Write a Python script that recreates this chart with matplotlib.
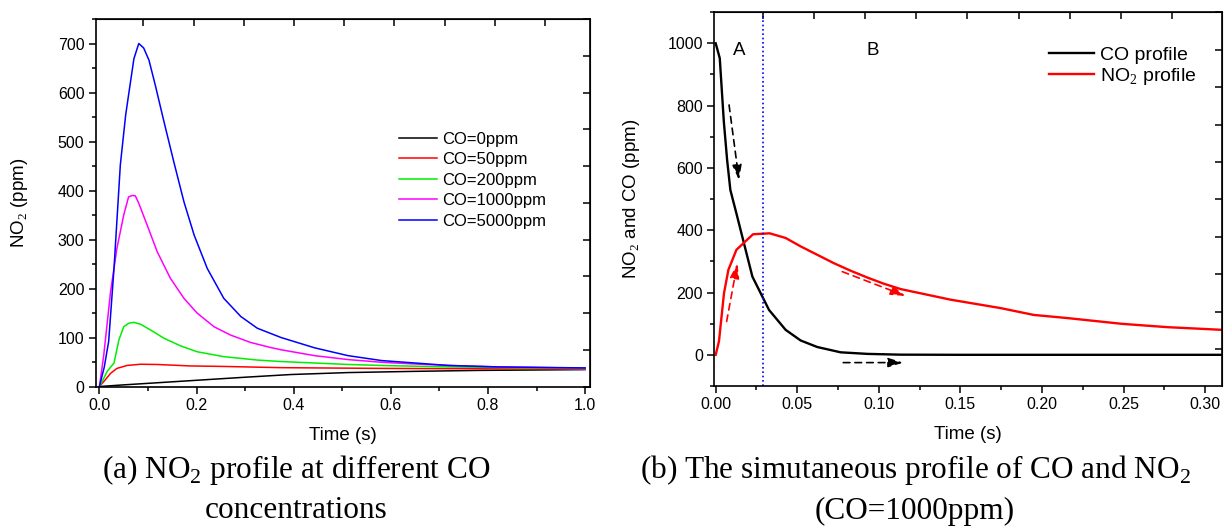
import matplotlib
matplotlib.use("Agg")
import matplotlib.pyplot as plt
from matplotlib.ticker import MultipleLocator, FormatStrFormatter, NullLocator
import numpy as np

plt.rcParams['font.family'] = ['Liberation Sans', 'DejaVu Sans']
plt.rcParams['mathtext.fontset'] = 'custom'
plt.rcParams['mathtext.rm'] = 'Liberation Sans'

# (a) NO2 at different inlet CO levels
t_co0 = [0, 0.05, 0.1, 0.188, 0.3, 0.394, 0.512, 0.65, 0.788, 1.0]
no2_co0 = [0, 3.4, 6.5, 12, 19, 24.5, 28.5, 31, 33, 34.5]

t_co50 = [0, 0.012, 0.023, 0.036, 0.057, 0.085, 0.119, 0.188, 0.256, 0.374, 0.581, 1.0]
no2_co50 = [0, 13.6, 27, 37, 43, 45.5, 45, 42, 41, 38.5, 37, 35.5]

t_co200 = [0, 0.008, 0.016, 0.030, 0.040, 0.050, 0.060, 0.071, 0.085, 0.105, 0.133,
           0.167, 0.201, 0.256, 0.325, 0.374, 0.443, 0.512, 0.581, 0.719, 1.0]
no2_co200 = [0, 15, 31, 48, 95, 122, 129, 131, 127, 115.5, 98.5,
             83, 71, 61, 54, 51, 48, 45, 43, 40, 36.5]

t_co1000 = [0, 0.009, 0.023, 0.036, 0.050, 0.060, 0.068, 0.074, 0.081, 0.098, 0.119,
            0.146, 0.174, 0.201, 0.236, 0.270, 0.311, 0.353, 0.374, 0.443, 0.512,
            0.581, 0.650, 0.719, 0.822, 1.0]
no2_co1000 = [0, 65, 194, 282, 350, 387, 390, 389, 374, 330, 275,
              221, 180, 150, 122, 105, 90, 79.5, 75, 63, 55,
              49.5, 46, 43, 40, 37.5]

t_co5000 = [0, 0.010, 0.019, 0.030, 0.043, 0.054, 0.060, 0.071, 0.081, 0.091, 0.102,
            0.115, 0.133, 0.153, 0.174, 0.195, 0.222, 0.256, 0.291, 0.325, 0.374,
            0.443, 0.512, 0.581, 0.650, 0.719, 0.822, 1.0]
no2_co5000 = [0, 40, 92, 241, 452, 554, 595, 669, 700, 691, 666,
              615, 540, 459, 377, 309, 241, 180, 143, 119, 100,
              79, 63, 53, 48, 43, 40, 38]

labels_a = ['CO=0ppm', 'CO=50ppm', 'CO=200ppm', 'CO=1000ppm', 'CO=5000ppm']
colors_a = ['black', '#ff0000', '#00ee00', '#ff00ff', '#0000ff']

# (b) CO and NO2 together, inlet CO=1000ppm
t_co = [0, 0.0025, 0.005, 0.007, 0.009, 0.0127, 0.0225, 0.0327, 0.0429, 0.0521,
        0.0623, 0.0766, 0.093, 0.113, 0.15, 0.31]
co = [1000, 952, 748, 626, 529, 454, 251, 144, 80, 46,
      25, 8, 3, 0.5, 0, 0]

t_no2 = [0, 0.002, 0.0051, 0.0078, 0.0127, 0.0229, 0.0331, 0.0429, 0.0521, 0.0623,
         0.0725, 0.0827, 0.093, 0.1032, 0.1134, 0.144, 0.1746, 0.195, 0.2155, 0.249,
         0.2768, 0.311]
no2 = [0, 43, 198, 273, 337, 387, 390, 375, 348, 321,
       294, 270, 248, 228, 211, 177, 150, 128, 118, 99.5,
       88.8, 80]

t_boundary = 0.029

fig = plt.figure(figsize=(12.25, 5.28), dpi=100)
ax1 = fig.add_axes([0.078, 0.267, 0.4036, 0.697])
ax2 = fig.add_axes([0.5829, 0.269, 0.4147, 0.708])


def style_axes(ax, top_ticks, right_ticks):
    for s in ax.spines.values():
        s.set_linewidth(1.2)
    ax.tick_params(which='both', direction='out', top=False, right=False,
                   labelsize=11.5, width=1.1, pad=3)
    ax.tick_params(which='major', length=5)
    ax.tick_params(which='minor', length=3)
    sx = ax.secondary_xaxis('top')
    sx.set_xticks(top_ticks)
    sx.tick_params(direction='in', length=5, width=1.1, labeltop=False)
    sx.xaxis.set_minor_locator(NullLocator())
    sy = ax.secondary_yaxis('right')
    sy.set_yticks(right_ticks)
    sy.tick_params(direction='in', length=5, width=1.1, labelright=False)
    sy.yaxis.set_minor_locator(NullLocator())


# ---- left panel
series_a = [(t_co0, no2_co0), (t_co50, no2_co50), (t_co200, no2_co200),
            (t_co1000, no2_co1000), (t_co5000, no2_co5000)]
for (t, v), lab, c in zip(series_a, labels_a, colors_a):
    ax1.plot(t, v, color=c, lw=1.1, label=lab)

ax1.set_xlim(-0.008, 1.01)
ax1.set_ylim(-1, 750)
ax1.xaxis.set_major_locator(MultipleLocator(0.2))
ax1.xaxis.set_minor_locator(MultipleLocator(0.1))
ax1.xaxis.set_major_formatter(FormatStrFormatter('%.1f'))
ax1.yaxis.set_major_locator(MultipleLocator(100))
ax1.yaxis.set_minor_locator(MultipleLocator(50))
style_axes(ax1, np.arange(-0.013, 1.05, 0.1034), np.arange(0, 760, 75))
ax1.set_xlabel('Time (s)', fontsize=13.5, labelpad=10)
ax1.set_ylabel('NO$_2$ (ppm)', fontsize=13.5, labelpad=20)
ax1.legend(loc='upper left', bbox_to_anchor=(0.6, 0.712), frameon=False,
           fontsize=12, handlelength=2.3, handletextpad=0.3,
           labelspacing=0.33, borderaxespad=0)

# ---- right panel
ax2.plot(t_co, co, color='black', lw=1.7, label='CO profile')
ax2.plot(t_no2, no2, color='#ff0000', lw=1.7, label='NO$_2$ profile')
ax2.axvline(t_boundary, color='#0000ff', lw=1.2, ls=(0, (1.0, 1.6)))

arrows = [((0.0082, 802), (0.0143, 561), 'black'),
          ((0.0067, 107), (0.0133, 294), '#ff0000'),
          ((0.0776, 267), (0.1164, 189), '#ff0000'),
          ((0.0782, -25), (0.115, -25), 'black')]
for start, end, c in arrows:
    ax2.annotate('', xy=end, xytext=start,
                 arrowprops=dict(arrowstyle='-|>,head_length=0.9,head_width=0.28',
                                 color=c, lw=1.2, ls=(0, (4, 3)),
                                 shrinkA=0, shrinkB=0))

ax2.text(0.0143, 976, 'A', fontsize=13.5, ha='center', va='center')
ax2.text(0.096, 976, 'B', fontsize=13.5, ha='center', va='center')

ax2.set_xlim(-0.001, 0.3104)
ax2.set_ylim(-100, 1100)
ax2.xaxis.set_major_locator(MultipleLocator(0.05))
ax2.xaxis.set_minor_locator(MultipleLocator(0.025))
ax2.xaxis.set_major_formatter(FormatStrFormatter('%.2f'))
ax2.yaxis.set_major_locator(MultipleLocator(200))
ax2.yaxis.set_minor_locator(MultipleLocator(100))
style_axes(ax2, np.arange(-0.0027, 0.32, 0.0314), np.arange(19, 1100, 120))
ax2.set_xlabel('Time (s)', fontsize=13.5, labelpad=10)
ax2.set_ylabel('NO$_2$ and CO (ppm)', fontsize=13.5, labelpad=18)
ax2.legend(loc='upper left', bbox_to_anchor=(0.645, 0.93), frameon=False,
           fontsize=14, handlelength=2.3, handletextpad=0.3,
           labelspacing=0.12, borderaxespad=0)

# captions under each panel
cap = dict(family=['Liberation Serif', 'DejaVu Serif'], fontsize=22.5,
           ha='center', va='center')
plt.rcParams['mathtext.rm'] = 'Liberation Serif'
fig.text(296 / 1225, 1 - 470 / 528, '(a) NO$_2$ profile at different CO', **cap)
fig.text(296 / 1225, 1 - 511 / 528, 'concentrations', **cap)
fig.text(915 / 1225, 1 - 470 / 528, '(b) The simutaneous profile of CO and NO$_2$', **cap)
fig.text(915 / 1225, 1 - 511 / 528, '(CO=1000ppm)', **cap)

fig.savefig('out.png', dpi=100)
